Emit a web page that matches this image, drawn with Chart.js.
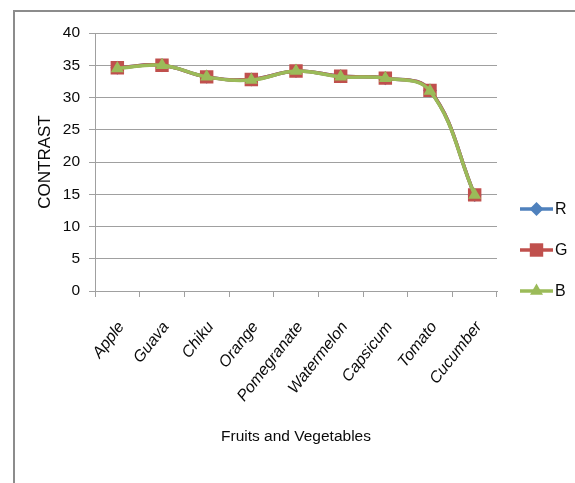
<!DOCTYPE html>
<html>
<head>
<meta charset="utf-8">
<script src="https://cdn.jsdelivr.net/npm/chart.js@4.4.1/dist/chart.umd.min.js"></script>
<style>
html,body{margin:0;padding:0;background:#fff;}
#wrap{position:relative;width:575px;height:483px;}
</style>
</head>
<body>
<div id="wrap"><canvas id="c" width="575" height="483"></canvas></div>
<script>
const categories = ["Apple","Guava","Chiku","Orange","Pomegranate","Watermelon","Capsicum","Tomato","Cucumber"];
const rValues = [34.6, 35.0, 33.2, 32.8, 34.1, 33.3, 33.0, 31.1, 14.9];
const gValues = [34.6, 35.0, 33.2, 32.8, 34.1, 33.3, 33.0, 31.1, 14.9];
const bValues = [34.5, 35.0, 33.2, 32.7, 34.1, 33.2, 33.0, 31.0, 14.9];
const yTicks = [0,5,10,15,20,25,30,35,40];
const seriesNames = ["R","G","B"];

const FONT = "'Liberation Sans', Arial, sans-serif";
const GRID = '#a0a0a0';
const TEXT = '#0a0a0a';

const framePlugin = {
  id: 'frame',
  beforeDraw(chart) {
    const ctx = chart.ctx;
    ctx.save();
    ctx.strokeStyle = '#8c8c8c';
    ctx.lineWidth = 2;
    ctx.beginPath();
    ctx.moveTo(14, 483);
    ctx.lineTo(14, 11);
    ctx.lineTo(575, 11);
    ctx.stroke();
    ctx.restore();
  }
};

function drawMarker(ctx, style, x, y, r, color) {
  ctx.fillStyle = color;
  ctx.beginPath();
  if (style === 'rectRot') {
    ctx.moveTo(x, y - r); ctx.lineTo(x + r, y); ctx.lineTo(x, y + r); ctx.lineTo(x - r, y);
  } else if (style === 'rect') {
    const s = r * Math.SQRT1_2;
    ctx.rect(x - s, y - s, 2 * s, 2 * s);
  } else {
    ctx.moveTo(x, y - r);
    ctx.lineTo(x + r * Math.sin(2*Math.PI/3), y - r * Math.cos(2*Math.PI/3));
    ctx.lineTo(x + r * Math.sin(4*Math.PI/3), y - r * Math.cos(4*Math.PI/3));
  }
  ctx.closePath();
  ctx.fill();
}

const legendPlugin = {
  id: 'sideLegend',
  afterDraw(chart) {
    const ctx = chart.ctx;
    ctx.save();
    chart.data.datasets.forEach((ds, i) => {
      const y = 209 + i * 41;
      ctx.strokeStyle = ds.borderColor;
      ctx.lineWidth = 3.5;
      ctx.beginPath();
      ctx.moveTo(520, y); ctx.lineTo(553, y);
      ctx.stroke();
      drawMarker(ctx, ds.pointStyle, 536.5, y, ds.pointRadius, ds.pointBackgroundColor);
      ctx.fillStyle = TEXT;
      ctx.font = '16px ' + FONT;
      ctx.textAlign = 'left';
      ctx.textBaseline = 'middle';
      ctx.fillText(ds.label, 555, y + 1);
    });
    ctx.restore();
  }
};

new Chart(document.getElementById('c'), {
  type: 'line',
  data: {
    labels: categories,
    datasets: [
      { label: seriesNames[0], data: rValues, borderColor: '#4F81BD', backgroundColor: '#4F81BD',
        pointBackgroundColor: '#4F81BD', pointBorderWidth: 0, pointStyle: 'rectRot', pointRadius: 7,
        borderWidth: 3.5, tension: 0.4, order: 3 },
      { label: seriesNames[1], data: gValues, borderColor: '#C0504D', backgroundColor: '#C0504D',
        pointBackgroundColor: '#C0504D', pointBorderWidth: 0, pointStyle: 'rect', pointRadius: 9.5,
        borderWidth: 3.5, tension: 0.4, order: 2 },
      { label: seriesNames[2], data: bValues, borderColor: '#9BBB59', backgroundColor: '#9BBB59',
        pointBackgroundColor: '#9BBB59', pointBorderWidth: 0, pointStyle: 'triangle', pointRadius: 7.5,
        borderWidth: 3.5, tension: 0.4, order: 1 }
    ]
  },
  options: {
    responsive: false,
    animation: false,
    events: [],
    layout: { padding: { left: 30, top: 33, right: 78, bottom: 36 } },
    plugins: { legend: { display: false }, tooltip: { enabled: false } },
    scales: {
      x: {
        type: 'category',
        offset: true,
        grid: { offset: true, drawOnChartArea: false, drawTicks: true, tickLength: 6, color: GRID, lineWidth: 1 },
        border: { display: true, color: GRID, width: 1 },
        ticks: { minRotation: 52, maxRotation: 52, padding: 21, labelOffset: 4, autoSkip: false,
          color: TEXT, font: { family: FONT, size: 16, style: 'italic' } },
        title: { display: true, text: 'Fruits and Vegetables', color: TEXT,
          font: { family: FONT, size: 15.5 }, padding: { top: 0, bottom: 1 } },
        afterFit(scale) { scale.height = 156; }
      },
      y: {
        min: 0, max: 40,
        afterBuildTicks(scale) { scale.ticks = yTicks.map(v => ({ value: v })); },
        grid: { color: GRID, lineWidth: 1, tickLength: 6, drawTicks: true },
        border: { display: true, color: GRID, width: 1 },
        ticks: { padding: 9, color: TEXT, font: { family: FONT, size: 15.5 } },
        title: { display: true, text: 'CONTRAST', color: TEXT,
          font: { family: FONT, size: 17 }, padding: { top: 5, bottom: 0 } },
        afterFit(scale) { scale.width = 65; }
      }
    }
  },
  plugins: [framePlugin, legendPlugin]
});
</script>
</body>
</html>
